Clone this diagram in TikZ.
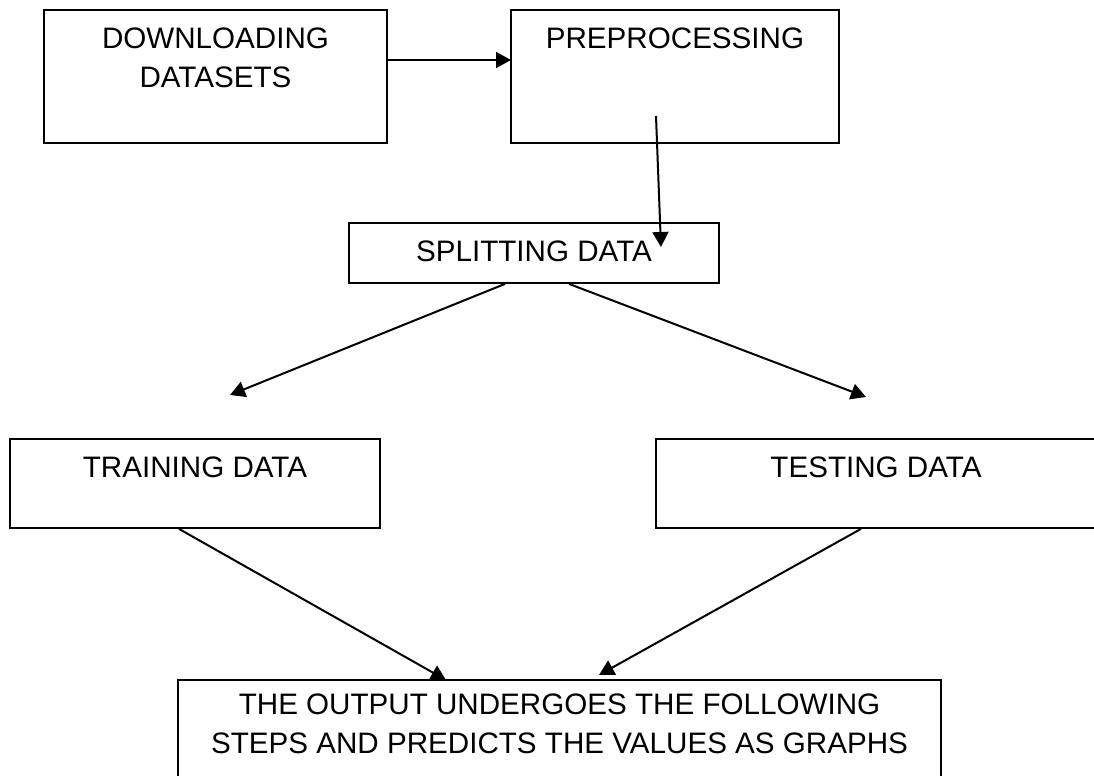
\documentclass[tikz,border=0pt]{standalone}
\usepackage{fontspec}
\setmainfont{Liberation Sans}
\usetikzlibrary{arrows.meta}

\begin{document}
\begin{tikzpicture}[x=0.5pt, y=-0.5pt, >={Triangle[length=7.5pt,width=8pt]},
        box/.style={draw, line width=0.9pt, rectangle, inner sep=0pt},
        lbl/.style={font=\fontsize{14.8}{19.5}\selectfont, align=center, inner sep=0pt},
        arr/.style={->, line width=1pt}]
        \useasboundingbox (0,0) rectangle (1094,776);
        \clip (0,0) rectangle (1094,776);

        % Riquadri
        \node[box, minimum width=171.5pt, minimum height=66.5pt] (down) at (215.5,76.5) {};
        \node[box, minimum width=164pt, minimum height=66.5pt] (prep) at (675,76.5) {};
        \node[box, minimum width=185pt, minimum height=30pt] (split) at (534,253) {};
        \node[box, minimum width=185pt, minimum height=44.5pt] (train) at (195,483.5) {};
        \node[box, minimum width=220pt, minimum height=44.5pt] (test) at (876,483.5) {};
        \node[box, minimum width=381.5pt, minimum height=70pt] (out) at (559.5,750) {};

        % Testi
        \node[lbl] (downtxt) at (215.5,57.5) {DOWNLOADING\\DATASETS};
        \node[lbl] (preptxt) at (675,38) {PREPROCESSING};
        \node[lbl] (splittxt) at (534,251) {SPLITTING DATA};
        \node[lbl] (traintxt) at (195,467) {TRAINING DATA};
        \node[lbl] (testtxt) at (876,467) {TESTING DATA};
        \node[lbl] (outtxt) at (559.5,724) {THE OUTPUT UNDERGOES THE FOLLOWING\\STEPS AND PREDICTS THE VALUES AS GRAPHS};

        % Punti delle frecce
        \coordinate (prepin) at (511,60);
        \coordinate (prepfoot) at (656,116);
        \coordinate (splittip) at (661,247);
        \coordinate (trainin) at (230,395);
        \coordinate (testin) at (866,397);
        \coordinate (outl) at (446,680);
        \coordinate (outr) at (599,675);

        % Frecce
        \draw[arr] (down.east |- prepin) -- (prepin);
        \draw[arr] (prepfoot) -- (splittip);
        \draw[arr] (split.south -| 505,0) -- (trainin);
        \draw[arr] (split.south -| 569,0) -- (testin);
        \draw[arr] (train.south -| 179,0) -- (outl);
        \draw[arr] (test.south -| 861,0) -- (outr);
    \end{tikzpicture}
\end{document}
